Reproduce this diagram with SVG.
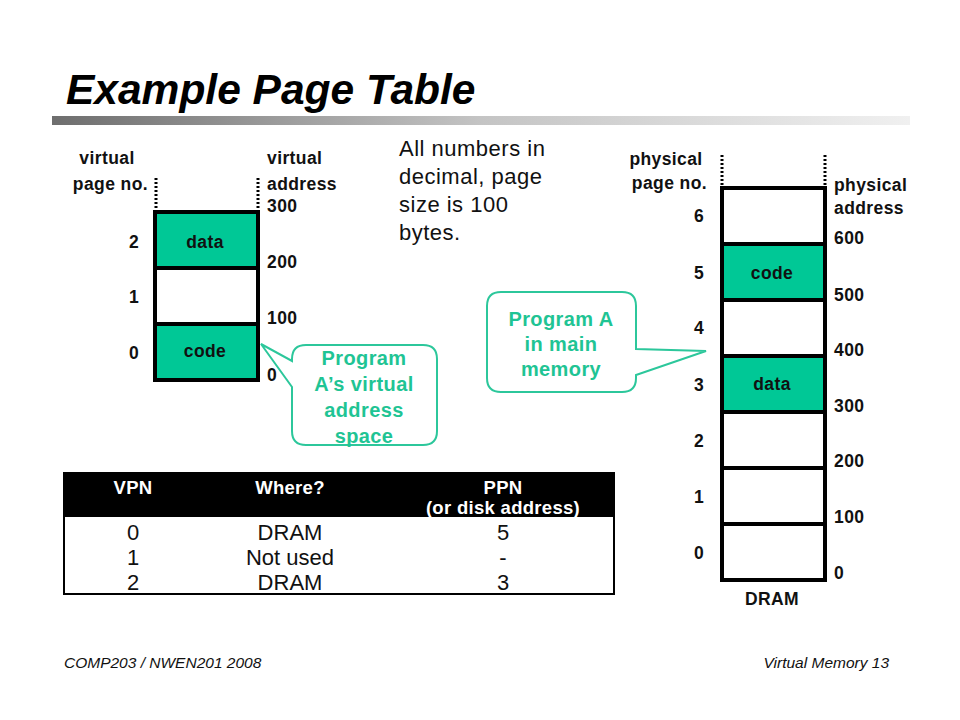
<svg xmlns="http://www.w3.org/2000/svg" width="960" height="720" viewBox="0 0 960 720">
<defs>
<linearGradient id="bar" x1="0" y1="0" x2="1" y2="0">
<stop offset="0" stop-color="#6e6e6e"/>
<stop offset="0.5" stop-color="#c4c4c4"/>
<stop offset="1" stop-color="#f0f0f0"/>
</linearGradient>
<style>
.lbl{font-family:"Liberation Sans",Arial,sans-serif;font-weight:bold;font-size:17.5px;letter-spacing:0.4px;fill:#111}
.mid{text-anchor:middle}
.end{text-anchor:end}
.cell{stroke:#000;stroke-width:4;fill:#fff}
.g{fill:#00C896}
.dot{stroke:#000;stroke-width:3;stroke-dasharray:2 2;fill:none}
.call{fill:#fff;stroke:#2cc79b;stroke-width:2}
.ct{font-family:"Liberation Sans",Arial,sans-serif;font-weight:bold;font-size:20px;letter-spacing:0.4px;fill:#1fc494;text-anchor:middle}
.big{font-family:"Liberation Sans",Arial,sans-serif;font-size:22px;letter-spacing:0.5px;fill:#111}
.th{font-family:"Liberation Sans",Arial,sans-serif;font-weight:bold;font-size:18.5px;letter-spacing:0.3px;fill:#fff;text-anchor:middle}
.td{font-family:"Liberation Sans",Arial,sans-serif;font-size:22px;fill:#111;text-anchor:middle}
.ft{font-family:"Liberation Sans",Arial,sans-serif;font-style:italic;font-size:15.5px;fill:#111}
</style>
</defs>
<rect width="960" height="720" fill="#fff"/>

<g id="title">
<text x="66" y="104" font-family="Liberation Sans,Arial,sans-serif" font-weight="bold" font-style="italic" font-size="42.5" fill="#000">Example Page Table</text>
<rect x="52" y="116" width="858" height="9" fill="url(#bar)"/>
</g>

<g id="virtual-space">
<line class="dot" x1="156" y1="178" x2="156" y2="210"/>
<line class="dot" x1="258" y1="178" x2="258" y2="210"/>
<rect class="cell g" x="155" y="212" width="103" height="56"/>
<rect class="cell" x="155" y="268" width="103" height="56"/>
<rect class="cell g" x="155" y="324" width="103" height="56"/>
<text class="lbl mid" x="205" y="248">data</text>
<text class="lbl mid" x="205" y="357">code</text>
<text class="lbl mid" x="107" y="164">virtual</text>
<text class="lbl end" x="148" y="190">page no.</text>
<text class="lbl" x="267" y="164">virtual</text>
<text class="lbl" x="267" y="190">address</text>
<text class="lbl" x="267" y="212">300</text>
<text class="lbl" x="267" y="268">200</text>
<text class="lbl" x="267" y="324">100</text>
<text class="lbl" x="267" y="381">0</text>
<text class="lbl mid" x="134" y="248">2</text>
<text class="lbl mid" x="134" y="303">1</text>
<text class="lbl mid" x="134" y="359">0</text>
</g>

<g id="note">
<text class="big" x="399" y="156">All numbers in</text>
<text class="big" x="399" y="184">decimal, page</text>
<text class="big" x="399" y="212">size is 100</text>
<text class="big" x="399" y="240">bytes.</text>
</g>

<g id="callout-virtual">
<path class="call" d="M306,345 H423 Q437,345 437,359 V431 Q437,445 423,445 H306 Q292,445 292,431 V387 L261,344 L292,361 V359 Q292,345 306,345 Z"/>
<text class="ct" x="364" y="365">Program</text>
<text class="ct" x="364" y="391">A’s virtual</text>
<text class="ct" x="364" y="417">address</text>
<text class="ct" x="364" y="443">space</text>
</g>

<g id="physical-memory">
<line class="dot" x1="722" y1="155" x2="722" y2="186"/>
<line class="dot" x1="825" y1="155" x2="825" y2="186"/>
<rect class="cell" x="722" y="188" width="103" height="56"/>
<rect class="cell g" x="722" y="244" width="103" height="56"/>
<rect class="cell" x="722" y="300" width="103" height="56"/>
<rect class="cell g" x="722" y="356" width="103" height="56"/>
<rect class="cell" x="722" y="412" width="103" height="56"/>
<rect class="cell" x="722" y="468" width="103" height="56"/>
<rect class="cell" x="722" y="524" width="103" height="56"/>
<text class="lbl mid" x="772" y="279">code</text>
<text class="lbl mid" x="772" y="390">data</text>
<text class="lbl mid" x="666" y="165">physical</text>
<text class="lbl end" x="707" y="189">page no.</text>
<text class="lbl" x="834" y="191">physical</text>
<text class="lbl" x="834" y="214">address</text>
<text class="lbl mid" x="699" y="222">6</text>
<text class="lbl mid" x="699" y="279">5</text>
<text class="lbl mid" x="699" y="334">4</text>
<text class="lbl mid" x="699" y="391">3</text>
<text class="lbl mid" x="699" y="447">2</text>
<text class="lbl mid" x="699" y="503">1</text>
<text class="lbl mid" x="699" y="559">0</text>
<text class="lbl" x="834" y="244">600</text>
<text class="lbl" x="834" y="301">500</text>
<text class="lbl" x="834" y="356">400</text>
<text class="lbl" x="834" y="412">300</text>
<text class="lbl" x="834" y="467">200</text>
<text class="lbl" x="834" y="523">100</text>
<text class="lbl" x="834" y="579">0</text>
<text class="lbl mid" x="772" y="605">DRAM</text>
</g>

<g id="callout-physical">
<path class="call" d="M501,292 H622 Q636,292 636,306 V349 L706,351 L636,375 V378 Q636,392 622,392 H501 Q487,392 487,378 V306 Q487,292 501,292 Z"/>
<text class="ct" x="561" y="326">Program A</text>
<text class="ct" x="561" y="351">in main</text>
<text class="ct" x="561" y="376">memory</text>
</g>

<g id="page-table">
<rect x="64" y="473" width="550" height="121" fill="#fff" stroke="#000" stroke-width="2"/>
<rect x="64" y="473" width="550" height="44" fill="#000"/>
<text class="th" x="133" y="494">VPN</text>
<text class="th" x="290" y="494">Where?</text>
<text class="th" x="503" y="494">PPN</text>
<text class="th" x="503" y="514">(or disk address)</text>
<text class="td" x="133" y="540">0</text>
<text class="td" x="290" y="540">DRAM</text>
<text class="td" x="503" y="540">5</text>
<text class="td" x="133" y="565">1</text>
<text class="td" x="290" y="565">Not used</text>
<text class="td" x="503" y="565">-</text>
<text class="td" x="133" y="590">2</text>
<text class="td" x="290" y="590">DRAM</text>
<text class="td" x="503" y="590">3</text>
</g>

<g id="footer">
<text class="ft" x="64" y="668">COMP203 / NWEN201 2008</text>
<text class="ft end" x="889" y="668">Virtual Memory 13</text>
</g>
</svg>
